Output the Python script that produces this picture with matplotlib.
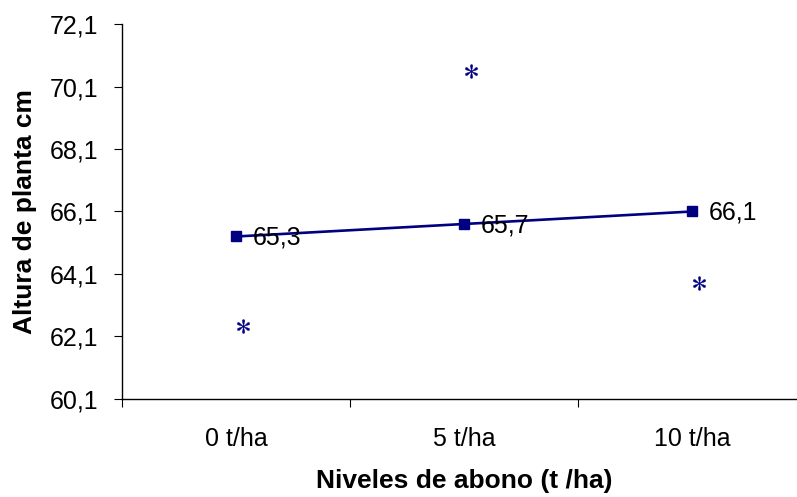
import matplotlib
matplotlib.use("Agg")
import matplotlib.pyplot as plt
import matplotlib.transforms as mtransforms

plt.rcParams['font.family'] = ['Liberation Sans', 'DejaVu Sans']
plt.rcParams['mathtext.fontset'] = 'stix'

categories = ['0 t/ha', '5 t/ha', '10 t/ha']
means = [65.3, 65.7, 66.1]
mean_labels = ['65,3', '65,7', '66,1']
stars = [62.42, 70.6, 63.8]
yticks = [60.1, 62.1, 64.1, 66.1, 68.1, 70.1, 72.1]
ytick_labels = ['60,1', '62,1', '64,1', '66,1', '68,1', '70,1', '72,1']

navy = '#000080'

fig = plt.figure(figsize=(7.97, 4.97), dpi=100)
ax = fig.add_axes([0.1531, 0.1972, 0.8582, 0.7545])

x = list(range(len(categories)))
ax.plot(x, means, color=navy, lw=1.9, marker='s', markersize=7, zorder=3)

for xi, yi, lab in zip(x, means, mean_labels):
    ax.annotate(lab, (xi, yi), xytext=(12, -0.8), textcoords='offset points',
                ha='left', va='center', fontsize=18, color='black')

off = mtransforms.ScaledTranslation(5/72, 0, fig.dpi_scale_trans)
ax.scatter(x, stars, marker=r'$\ast$', s=100, color=navy, linewidths=0.3,
           edgecolors=navy, transform=ax.transData + off, zorder=3)

ax.set_xlim(-0.5, 2.5)
ax.set_ylim(60.1, 72.1)
ax.set_yticks(yticks)
ax.set_yticklabels(ytick_labels)
ax.set_xticks([-0.5, 0.5, 1.5, 2.5])
ax.set_xticklabels([])
ax.set_xticks(x, minor=True)
ax.set_xticklabels(categories, minor=True)
ax.tick_params(axis='x', which='minor', length=0, pad=20, labelsize=18)
ax.tick_params(axis='x', which='major', length=6, direction='out')
ax.tick_params(axis='y', length=6, direction='out', labelsize=18, pad=11)

for s in ['top', 'right']:
    ax.spines[s].set_visible(False)
for s in ['left', 'bottom']:
    ax.spines[s].set_linewidth(1.0)

ax.set_ylabel('Altura de planta cm', fontsize=19, fontweight='bold')
ax.yaxis.set_label_coords(-0.124, 0.5)
ax.set_xlabel('Niveles de abono (t /ha)', fontsize=19, fontweight='bold')
ax.xaxis.set_label_coords(0.5, -0.188)

fig.savefig('out.png', dpi=100)
